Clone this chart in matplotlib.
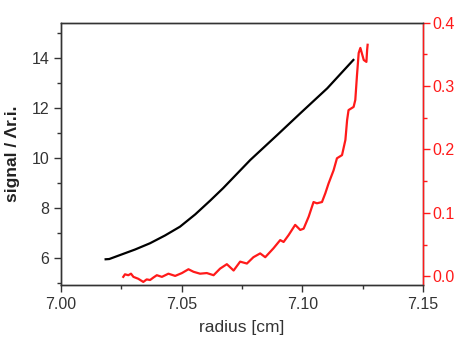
import matplotlib
matplotlib.use("Agg")
import matplotlib.pyplot as plt
from matplotlib.ticker import MultipleLocator

plt.rcParams['font.family'] = ['Liberation Sans', 'DejaVu Sans']

# black curve: signal (left axis)
r_signal = [7.0185, 7.0200, 7.0245, 7.0307, 7.0369, 7.0431, 7.0493, 7.0556,
            7.0618, 7.0672, 7.0784, 7.0896, 7.0991, 7.1103, 7.1211]
signal = [5.96, 5.97, 6.13, 6.35, 6.60, 6.91, 7.26, 7.75,
          8.30, 8.80, 9.92, 10.92, 11.78, 12.78, 13.91]

# red curve: right axis
r_red = [7.0258, 7.0265, 7.0279, 7.0290, 7.0300, 7.0320, 7.0341, 7.0355, 7.0369,
         7.0383, 7.0397, 7.0418, 7.0445, 7.0473, 7.0501, 7.0528, 7.0549, 7.0576,
         7.0604, 7.0632, 7.0659, 7.0687, 7.0715, 7.0742, 7.0770, 7.0797, 7.0825,
         7.0846, 7.0880, 7.0908, 7.0922, 7.0943, 7.0970, 7.0991, 7.1005, 7.1026,
         7.1046, 7.1060, 7.1081, 7.1095, 7.1108, 7.1129, 7.1143, 7.1164, 7.1178,
         7.1185, 7.1191, 7.1212, 7.1219, 7.1226, 7.1233, 7.1240, 7.1254, 7.1265,
         7.1268, 7.1270]
red = [-0.001, 0.003, 0.0016, 0.004, -0.001, -0.004, -0.009, -0.005, -0.006,
       -0.002, 0.0016, -0.001, 0.004, 0.0005, 0.005, 0.011, 0.007, 0.004,
       0.005, 0.0016, 0.012, 0.019, 0.009, 0.023, 0.020, 0.030, 0.036,
       0.030, 0.044, 0.057, 0.054, 0.065, 0.081, 0.073, 0.075, 0.094,
       0.117, 0.115, 0.117, 0.131, 0.146, 0.167, 0.186, 0.191, 0.215,
       0.246, 0.262, 0.267, 0.278, 0.317, 0.352, 0.360, 0.341, 0.338,
       0.357, 0.365]

x_ticks = [7.00, 7.05, 7.10, 7.15]
left_ticks = [6, 8, 10, 12, 14]
right_ticks = [0.0, 0.1, 0.2, 0.3, 0.4]

dark = '#333333'
redc = '#ff1a1a'

fig = plt.figure(figsize=(4.55, 3.37), dpi=100)
ax = fig.add_axes([0.134, 0.154, 0.796, 0.779])
ax2 = ax.twinx()

ax.plot(r_signal, signal, color='black', lw=1.6)
ax2.plot(r_red, red, color=redc, lw=1.6)

ax.set_xlim(7.00, 7.15)
ax.set_ylim(4.93, 15.4)
ax2.set_ylim(-0.014, 0.4)

ax.set_xticks(x_ticks)
ax.set_xticklabels([f"{v:.2f}" for v in x_ticks])
ax.xaxis.set_minor_locator(MultipleLocator(0.025))
ax.set_yticks(left_ticks)
ax.yaxis.set_minor_locator(MultipleLocator(1))
ax2.set_yticks(right_ticks)
ax2.set_yticklabels([f"{v:.1f}" for v in right_ticks])
ax2.yaxis.set_minor_locator(MultipleLocator(0.05))

for a in (ax, ax2):
    for s in a.spines.values():
        s.set_color(dark)
        s.set_linewidth(1.0)
ax2.spines['right'].set_color(redc)

ax.tick_params(axis='both', which='major', direction='out', length=5, width=1,
               colors=dark, labelsize=11.5, top=False, right=False)
ax.tick_params(axis='both', which='minor', direction='out', length=3, width=1,
               colors=dark, top=False, right=False)
ax2.tick_params(axis='y', which='major', direction='out', length=5, width=1,
                colors=redc, labelsize=11.5, pad=1.5)
ax2.tick_params(axis='y', which='minor', direction='out', length=3, width=1,
                colors=redc)

ax.set_xlabel('radius [cm]', fontsize=12.5, color=dark, labelpad=6)
ax.set_ylabel('signal / Λr.i.', fontsize=12.5, color='#222222', fontweight='bold', labelpad=8)

fig.savefig('out.png', dpi=100)
